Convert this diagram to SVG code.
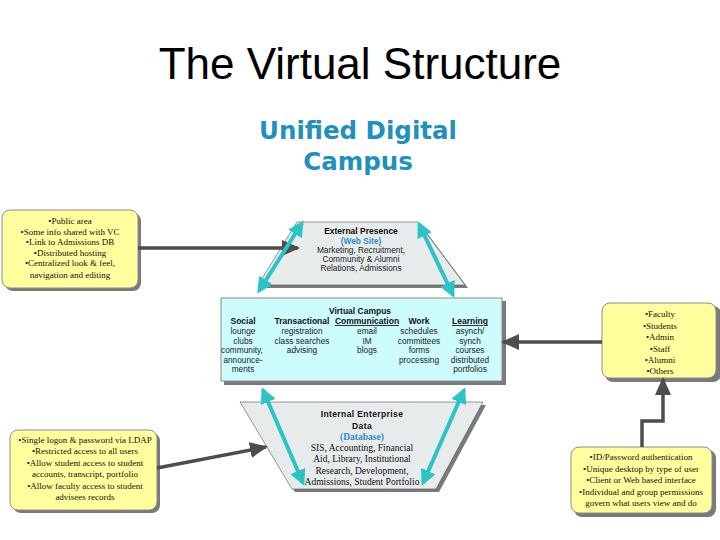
<svg xmlns="http://www.w3.org/2000/svg" width="720" height="540" viewBox="0 0 720 540">
<defs>
<style>
.title{font-family:"Liberation Sans",Arial,sans-serif;font-size:44px;fill:#000}
.udc{font-family:"DejaVu Sans",Verdana,sans-serif;font-weight:bold;font-size:24.5px;fill:#2190c0;text-anchor:middle}
.call{font-family:"Liberation Serif","Times New Roman",serif;font-size:9px;fill:#111;text-anchor:middle}
.box{fill:#ffff9e;stroke:#8c8c8c;stroke-width:1}
.shadow{fill:#7a7a7a}
.trap{fill:#e7ebeb;stroke:#555;stroke-width:0.6}
.vc{fill:#cdfcfc;stroke:#8a8a8a;stroke-width:1}
.sb{font-family:"Liberation Sans",Arial,sans-serif;font-weight:bold;font-size:8.5px;fill:#111;text-anchor:middle}
.sr{font-family:"Liberation Sans",Arial,sans-serif;font-size:8.3px;fill:#222;text-anchor:middle}
.ser{font-family:"Liberation Serif","Times New Roman",serif;font-size:9.5px;fill:#111;text-anchor:middle}
.blue{fill:#2b8fc0;font-weight:bold}
.garrow{fill:none;stroke:#4d4d4d;stroke-width:3.5}
.carrow{fill:none;stroke:#2cc3c8;stroke-width:4}
</style>
<marker id="gh" markerUnits="userSpaceOnUse" markerWidth="18" markerHeight="16" refX="16" refY="8" orient="auto">
<path d="M0,0 L18,8 L0,16 z" fill="#4d4d4d"/>
</marker>
<marker id="ch" markerUnits="userSpaceOnUse" markerWidth="16" markerHeight="16" refX="13" refY="8" orient="auto-start-reverse">
<path d="M0,0 L16,8 L0,16 z" fill="#2cc3c8"/>
</marker>
</defs>
<rect width="720" height="540" fill="#ffffff"/>
<text class="title" x="360" y="79" text-anchor="middle">The Virtual Structure</text>
<g id="udc">
<text class="udc" x="358" y="139">Unified Digital</text>
<text class="udc" x="358" y="170">Campus</text>
</g>

<g id="external">
<polygon class="shadow" points="300,225 421,225 468,288 261,288"/>
<polygon class="trap" points="297,222 418,222 465,285 258,285"/>
<text class="sb" x="361" y="234" font-size="9">External Presence</text>
<text class="sr blue" x="361" y="244" font-size="8">(Web Site)</text>
<text class="sr" x="361" y="253">Marketing, Recruitment,</text>
<text class="sr" x="361" y="262">Community &amp; Alumni</text>
<text class="sr" x="361" y="271">Relations, Admissions</text>
</g>

<g id="virtual">
<rect class="shadow" x="224" y="301" width="282" height="84"/>
<rect class="vc" x="221" y="298" width="281" height="83"/>
<text class="sb" x="360" y="314" font-size="9.5">Virtual Campus</text>
<text class="sb" x="243" y="324">Social</text>
<text class="sr" x="243" y="334">lounge</text>
<text class="sr" x="243" y="343.5">clubs</text>
<text class="sr" x="242" y="353">community,</text>
<text class="sr" x="243" y="362.5">announce-</text>
<text class="sr" x="243" y="372">ments</text>
<text class="sb" x="302" y="324">Transactional</text>
<text class="sr" x="302" y="334">registration</text>
<text class="sr" x="302" y="343.5">class searches</text>
<text class="sr" x="302" y="353">advising</text>
<text class="sb" x="367" y="324" text-decoration="underline">Communication</text>
<text class="sr" x="367" y="334">email</text>
<text class="sr" x="367" y="343.5">IM</text>
<text class="sr" x="367" y="353">blogs</text>
<text class="sb" x="419" y="324">Work</text>
<text class="sr" x="419" y="334">schedules</text>
<text class="sr" x="419" y="343.5">committees</text>
<text class="sr" x="419" y="353">forms</text>
<text class="sr" x="419" y="362.5">processing</text>
<text class="sb" x="470" y="324" text-decoration="underline">Learning</text>
<text class="sr" x="470" y="334">asynch/</text>
<text class="sr" x="470" y="343.5">synch</text>
<text class="sr" x="470" y="353">courses</text>
<text class="sr" x="470" y="362.5">distributed</text>
<text class="sr" x="470" y="372">portfolios</text>
</g>

<g id="internal">
<polygon class="shadow" points="243,405 486,405 439,492 295,492"/>
<polygon class="trap" points="240,402 483,402 436,489 292,489"/>
<text class="sb" x="362" y="417" font-size="9" letter-spacing="0.4">Internal Enterprise</text>
<text class="sb" x="362" y="429" font-size="9" letter-spacing="0.4">Data</text>
<text class="ser blue" x="362" y="440" font-size="9">(Database)</text>
<text class="ser" x="362" y="451">SIS, Accounting, Financial</text>
<text class="ser" x="362" y="462">Aid, Library, Institutional</text>
<text class="ser" x="362" y="473.5">Research, Development,</text>
<text class="ser" x="362" y="485">Admissions, Student Portfolio</text>
</g>

<g id="box-public">
<rect class="shadow" x="5" y="213" width="136" height="78" rx="8"/>
<rect class="box" x="2" y="210" width="136" height="78" rx="8"/>
<text class="call" x="70" y="224">•Public area</text>
<text class="call" x="70" y="234.5">•Some info shared with VC</text>
<text class="call" x="70" y="245">•Link to Admissions DB</text>
<text class="call" x="70" y="255.5">•Distributed hosting</text>
<text class="call" x="70" y="266">•Centralized look &amp; feel,</text>
<text class="call" x="70" y="277.5">navigation and editing</text>
</g>

<g id="box-logon">
<rect class="shadow" x="13" y="433" width="147" height="80" rx="8"/>
<rect class="box" x="10" y="430" width="147" height="80" rx="8"/>
<text class="call" x="85" y="443">•Single logon &amp; password via LDAP</text>
<text class="call" x="85" y="454">•Restricted access to all users</text>
<text class="call" x="85" y="465.5">•Allow student access to student</text>
<text class="call" x="85" y="477">accounts, transcript, portfolio</text>
<text class="call" x="85" y="488.5">•Allow faculty access to student</text>
<text class="call" x="85" y="500">advisees records</text>
</g>

<g id="box-users">
<rect class="shadow" x="605" y="306" width="116" height="76" rx="8"/>
<rect class="box" x="602" y="303" width="114" height="75" rx="8"/>
<text class="call" x="660" y="317">•Faculty</text>
<text class="call" x="660" y="328.5">•Students</text>
<text class="call" x="660" y="340">•Admin</text>
<text class="call" x="660" y="351.5">•Staff</text>
<text class="call" x="660" y="363">•Alumni</text>
<text class="call" x="660" y="374">•Others</text>
</g>

<g id="box-auth">
<rect class="shadow" x="574" y="450" width="142" height="67" rx="8"/>
<rect class="box" x="571" y="447" width="141" height="66" rx="8"/>
<text class="call" x="641" y="460">•ID/Password authentication</text>
<text class="call" x="641" y="471.5">•Unique desktop by type of user</text>
<text class="call" x="641" y="483">•Client or Web based interface</text>
<text class="call" x="641" y="494.5">•Individual and group permissions</text>
<text class="call" x="641" y="506">govern what users view and do</text>
</g>

<g id="connectors">
<line class="garrow" x1="138" y1="248" x2="298" y2="248" marker-end="url(#gh)"/>
<line class="garrow" x1="157" y1="468" x2="266" y2="447" marker-end="url(#gh)"/>
<line class="garrow" x1="602" y1="342" x2="503" y2="342" marker-end="url(#gh)"/>
<polyline class="garrow" points="642,447 642,421 663,421 663,379" marker-end="url(#gh)"/>
<line class="carrow" x1="259" y1="291" x2="302" y2="223" marker-start="url(#ch)" marker-end="url(#ch)"/>
<line class="carrow" x1="419" y1="224" x2="453" y2="295" marker-start="url(#ch)" marker-end="url(#ch)"/>
<line class="carrow" x1="263" y1="390" x2="303" y2="483" marker-start="url(#ch)" marker-end="url(#ch)"/>
<line class="carrow" x1="464" y1="390" x2="423" y2="483" marker-start="url(#ch)" marker-end="url(#ch)"/>
</g>
</svg>
